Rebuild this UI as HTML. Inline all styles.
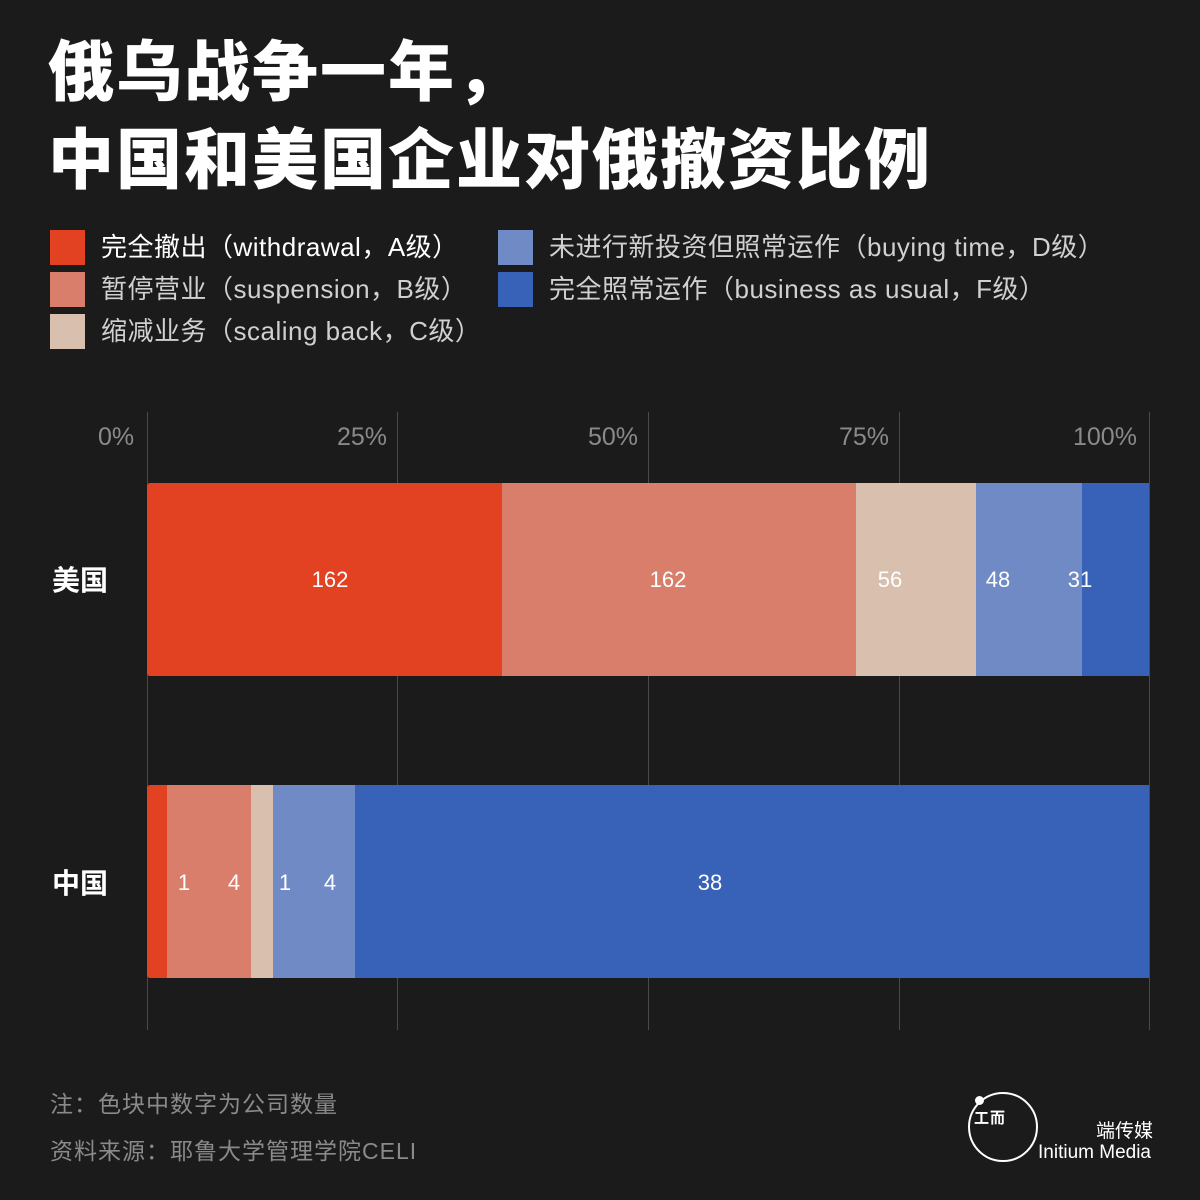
<!DOCTYPE html>
<html><head><meta charset="utf-8"><style>
body{margin:0;background:#1b1b1b;}
#c{position:relative;width:1200px;height:1200px;background:#1b1b1b;overflow:hidden;font-family:"Liberation Sans","Noto Sans CJK SC",sans-serif;color:#fff}
.a{position:absolute;white-space:nowrap}
.t{font-size:66px;font-weight:900;left:48px;line-height:88px;letter-spacing:2px}
.sw{position:absolute;width:35px;height:35px}
.lg{font-size:26px;color:#d0d0d0;line-height:35px;letter-spacing:0.5px}
.tick{font-size:25px;color:#8a8a8a;top:423px}
.grid{position:absolute;top:412px;height:618px;width:1px;background:#4a4a4a}
.seg{position:absolute}
.n{font-size:22px;color:#fff;transform:translateX(-50%);line-height:24px}
.cat{font-size:28px;font-weight:700;left:52px}
.note{font-size:23px;color:#8a8a8a;left:50px;letter-spacing:1px}
</style></head><body><div id="c">
<div class="a t" style="top:28px">俄乌战争一年，</div>
<div class="a t" style="top:116px">中国和美国企业对俄撤资比例</div>

<div class="sw" style="left:50px;top:230px;background:#e24222"></div>
<div class="a lg" style="left:101px;top:230px;color:#fff">完全撤出（withdrawal，A级）</div>
<div class="sw" style="left:50px;top:272px;background:#da7e6c"></div>
<div class="a lg" style="left:101px;top:272px">暂停营业（suspension，B级）</div>
<div class="sw" style="left:50px;top:314px;background:#d9c0ae"></div>
<div class="a lg" style="left:101px;top:314px">缩减业务（scaling back，C级）</div>
<div class="sw" style="left:498px;top:230px;background:#6f8ac4"></div>
<div class="a lg" style="left:549px;top:230px">未进行新投资但照常运作（buying time，D级）</div>
<div class="sw" style="left:498px;top:272px;background:#3862b8"></div>
<div class="a lg" style="left:549px;top:272px">完全照常运作（business as usual，F级）</div>

<div class="grid" style="left:147px"></div>
<div class="grid" style="left:397px"></div>
<div class="grid" style="left:648px"></div>
<div class="grid" style="left:899px"></div>
<div class="grid" style="left:1149px"></div>
<div class="a tick" style="left:98px">0%</div>
<div class="a tick" style="left:337px">25%</div>
<div class="a tick" style="left:588px">50%</div>
<div class="a tick" style="left:839px">75%</div>
<div class="a tick" style="left:1073px">100%</div>

<div class="seg" style="left:147px;top:483px;width:355px;height:193px;background:#e24222;border-radius:3px 0 0 3px"></div>
<div class="seg" style="left:502px;top:483px;width:354px;height:193px;background:#da7e6c"></div>
<div class="seg" style="left:856px;top:483px;width:120px;height:193px;background:#d9c0ae"></div>
<div class="seg" style="left:976px;top:483px;width:106px;height:193px;background:#6f8ac4"></div>
<div class="seg" style="left:1082px;top:483px;width:67px;height:193px;background:#3862b8"></div>
<div class="a n" style="left:330px;top:568px">162</div>
<div class="a n" style="left:668px;top:568px">162</div>
<div class="a n" style="left:890px;top:568px">56</div>
<div class="a n" style="left:998px;top:568px">48</div>
<div class="a n" style="left:1080px;top:568px">31</div>

<div class="seg" style="left:147px;top:785px;width:20px;height:193px;background:#e24222;border-radius:3px 0 0 3px"></div>
<div class="seg" style="left:167px;top:785px;width:84px;height:193px;background:#da7e6c"></div>
<div class="seg" style="left:251px;top:785px;width:22px;height:193px;background:#d9c0ae"></div>
<div class="seg" style="left:273px;top:785px;width:82px;height:193px;background:#6f8ac4"></div>
<div class="seg" style="left:355px;top:785px;width:794px;height:193px;background:#3862b8"></div>
<div class="a n" style="left:184px;top:871px">1</div>
<div class="a n" style="left:234px;top:871px">4</div>
<div class="a n" style="left:285px;top:871px">1</div>
<div class="a n" style="left:330px;top:871px">4</div>
<div class="a n" style="left:710px;top:871px">38</div>

<div class="a cat" style="top:559px">美国</div>
<div class="a cat" style="top:862px">中国</div>

<div class="a note" style="top:1085px">注：色块中数字为公司数量</div>
<div class="a note" style="top:1132px">资料来源：耶鲁大学管理学院CELI</div>

<div style="position:absolute;left:968px;top:1092px;width:66px;height:66px;border:2px solid #fff;border-radius:50%"></div>
<div style="position:absolute;left:975px;top:1096px;width:9px;height:9px;background:#fff;border-radius:50%"></div>
<div class="a" style="left:974px;top:1107px;font-size:15px;font-weight:700;letter-spacing:1px">工而</div>
<div class="a" style="left:1096px;top:1116px;font-size:19px">端传媒</div>
<div class="a" style="left:1038px;top:1142px;font-size:19px">Initium Media</div>
</div></body></html>
